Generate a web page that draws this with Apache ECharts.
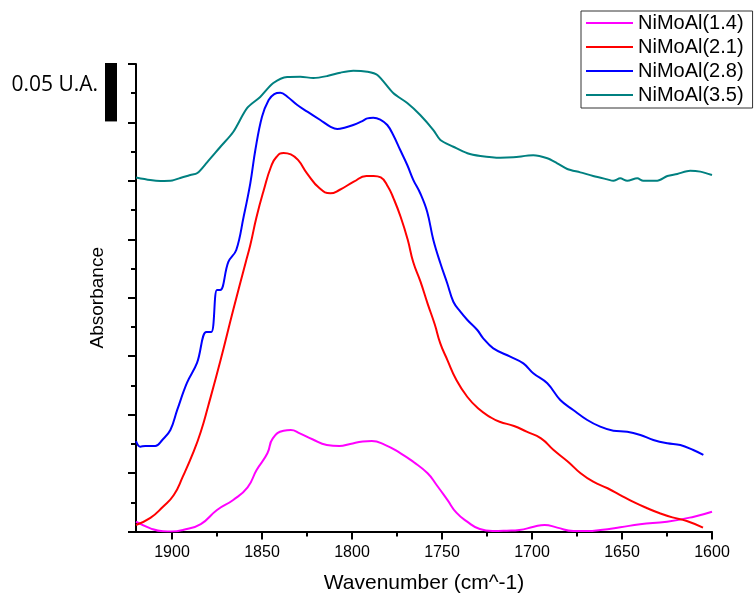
<!DOCTYPE html>
<html>
<head>
<meta charset="utf-8">
<script src="https://cdn.jsdelivr.net/npm/echarts@6/dist/echarts.min.js"></script>
<style>
html, body { margin: 0; padding: 0; background: #fff; }
#chart { width: 756px; height: 600px; }
</style>
</head>
<body>
<div id="chart"></div>
<script>
// wavenumber (cm^-1) / absorbance
var wn14 = [1920,1912,1905,1900,1894,1884,1875,1866,1858,1853,1847,1844,1838,1834,1829,1822,1814,1807,1801,1794,1789,1782,1773,1766,1758,1753,1747,1742,1736,1729,1722,1714,1707,1699,1693,1686,1677,1669,1662,1651,1640,1625,1610,1600];
var abs14 = [0.0084,0.0027,0.0002,0.0,0.0013,0.0064,0.0184,0.0270,0.0378,0.0526,0.0669,0.0797,0.0862,0.0868,0.0840,0.0789,0.0740,0.0732,0.0749,0.0770,0.0774,0.0744,0.0669,0.0597,0.0498,0.0398,0.0270,0.0161,0.0084,0.0021,0.0004,0.0007,0.0013,0.0041,0.0056,0.0033,0.0004,0.0004,0.0013,0.0036,0.0062,0.0084,0.0127,0.0169];

var wn21 = [1920,1912,1905,1899,1894,1888,1884,1880,1873,1866,1859,1856.5,1853,1849,1845,1842,1838,1834,1830,1825,1818,1812,1807,1799,1792,1788,1784,1780,1777,1773,1769,1766,1762,1758,1754,1751,1747,1742,1736,1730,1723,1718,1710,1703,1695,1688,1680,1673,1666,1658,1651,1644,1636,1629,1622,1614,1605];
var abs21 = [0.0056,0.0116,0.0212,0.0312,0.0469,0.0683,0.0854,0.1068,0.1467,0.1895,0.2306,0.2451,0.2693,0.2922,0.3121,0.3204,0.3239,0.3226,0.3179,0.3065,0.2936,0.2894,0.2922,0.2993,0.3042,0.3042,0.3029,0.2950,0.2853,0.2693,0.2494,0.2306,0.2140,0.1950,0.1771,0.1612,0.1467,0.1296,0.1153,0.1054,0.0977,0.0939,0.0903,0.0854,0.0797,0.0697,0.0597,0.0498,0.0426,0.0370,0.0312,0.0255,0.0199,0.0156,0.0121,0.0090,0.0033];

var wn28 = [1920,1917.6,1914.8,1909.3,1905.4,1900.9,1897.1,1891.7,1886.1,1880.9,1878.2,1875,1873.2,1868.7,1864.3,1860.2,1856.5,1853.7,1850,1846.3,1843.2,1839.8,1835.9,1830.4,1824.8,1817.6,1812.1,1808.2,1803.7,1799.3,1794.3,1791.5,1788.2,1784.3,1780.4,1777.1,1773.2,1769.3,1765.9,1762.1,1758.2,1754.8,1750.9,1747.1,1743.7,1739.8,1735.9,1730.4,1727.1,1721.5,1712.1,1704.8,1699.3,1691.5,1684.3,1677.1,1669.3,1662.1,1654.8,1647.1,1639.8,1632.6,1624.8,1617.6,1610.4,1604.8];
var abs28 = [0.0774,0.0726,0.0732,0.0732,0.0783,0.0868,0.1040,0.1271,0.1442,0.1707,0.1707,0.2066,0.2066,0.2306,0.2409,0.2693,0.2979,0.3264,0.3549,0.3692,0.3743,0.3754,0.3720,0.3649,0.3592,0.3521,0.3465,0.3444,0.3457,0.3478,0.3512,0.3535,0.3541,0.3525,0.3478,0.3393,0.3264,0.3136,0.3007,0.2894,0.2734,0.2494,0.2295,0.2124,0.1966,0.1881,0.1810,0.1724,0.1653,0.1567,0.1496,0.1439,0.1354,0.1268,0.1125,0.1040,0.0954,0.0897,0.0862,0.0854,0.0826,0.0783,0.0755,0.0740,0.0697,0.0655];

var wn35 = [1920,1912.1,1906.5,1899.8,1895.4,1889.8,1885.9,1880.4,1873.2,1866,1858.2,1851,1843.7,1836,1828.7,1821.5,1813.7,1806.5,1799.3,1791.5,1785.9,1777.1,1769.3,1762.1,1754.8,1750.9,1743.7,1735.9,1728.7,1717.6,1710.4,1699.3,1691.5,1686,1680.4,1673.2,1666,1658.2,1654.8,1651,1647.1,1641.5,1638.2,1630.4,1624.8,1619.3,1612.1,1606.5,1600];
var abs35 = [0.3029,0.3007,0.2999,0.3003,0.3025,0.3050,0.3067,0.3161,0.3290,0.3418,0.3624,0.3718,0.3837,0.3889,0.3891,0.3880,0.3897,0.3926,0.3943,0.3934,0.3906,0.3752,0.3666,0.3564,0.3435,0.3350,0.3292,0.3236,0.3213,0.3198,0.3202,0.3219,0.3193,0.3150,0.3102,0.3073,0.3042,0.3013,0.3001,0.3022,0.3001,0.3022,0.3001,0.3001,0.3042,0.3059,0.3087,0.3079,0.3050];

var seriesNames = ['NiMoAl(1.4)', 'NiMoAl(2.1)', 'NiMoAl(2.8)', 'NiMoAl(3.5)'];
var seriesColors = ['#ff00ff', '#ff0000', '#0000ff', '#008080'];
var seriesSmooth = [0.5, 0.5, 0.4, 0.3];

var majorTicks = [1600, 1650, 1700, 1750, 1800, 1850, 1900];
var minorTicks = [1625, 1675, 1725, 1775, 1825, 1875];

var FONT = 'Liberation Sans, Arial, sans-serif';

function pairs(xs, ys){
	var out = [];
	for(var i = 0; i < xs.length; i++){
		out.push([xs[i], ys[i]]);
	}
	return out;
}

var chart = echarts.init(document.getElementById('chart'));

var xList = [wn14, wn21, wn28, wn35];
var yList = [abs14, abs21, abs28, abs35];
var series = [];
for(var i = 0; i < seriesNames.length; i++){
	series.push({
		name: seriesNames[i],
		type: 'line',
		xAxisIndex: 0,
		symbol: 'none',
		smooth: seriesSmooth[i],
		lineStyle: { color: seriesColors[i], width: 2 },
		itemStyle: { color: seriesColors[i] },
		data: pairs(xList[i], yList[i])
	});
}

var axisColor = '#000';

var option = {
	animation: false,
	grid: { left: 136, right: 44, top: 64, bottom: 68.5 },
	legend: {
		orient: 'vertical',
		left: 581,
		top: 11,
		padding: [2, 9, 3, 5],
		itemGap: 4,
		itemWidth: 47,
		itemHeight: 2,
		icon: 'rect',
		borderColor: '#333',
		borderWidth: 1,
		borderRadius: 0,
		backgroundColor: '#fff',
		textStyle: { fontSize: 20, lineHeight: 20, color: '#000', fontFamily: FONT },
		data: seriesNames
	},
	xAxis: [{
		type: 'value',
		min: 1600,
		max: 1920,
		inverse: true,
		name: 'Wavenumber (cm^-1)',
		nameLocation: 'middle',
		nameGap: 41,
		nameTextStyle: { fontSize: 21, color: '#000', fontFamily: FONT },
		axisLine: { onZero: false, lineStyle: { color: axisColor, width: 2 } },
		axisTick: { length: 8, customValues: majorTicks, lineStyle: { color: axisColor, width: 2 } },
		axisLabel: {
			customValues: majorTicks,
			margin: 13,
			fontSize: 16,
			color: '#000',
			fontFamily: FONT,
			formatter: function(v){ return String(v); }
		},
		splitLine: { show: false }
	}, {
		// minor ticks only
		type: 'value',
		min: 1600,
		max: 1920,
		inverse: true,
		position: 'bottom',
		axisLine: { show: false },
		axisTick: { length: 5, customValues: minorTicks, lineStyle: { color: axisColor, width: 2 } },
		axisLabel: { show: false },
		splitLine: { show: false }
	}],
	yAxis: {
		type: 'value',
		min: 0,
		max: 0.4,
		interval: 0.05,
		name: 'Absorbance',
		nameLocation: 'middle',
		nameGap: 29,
		nameTextStyle: { fontSize: 19, color: '#000', fontFamily: FONT },
		axisLine: { show: true, onZero: false, lineStyle: { color: axisColor, width: 2 } },
		axisTick: { show: true, length: 8, lineStyle: { color: axisColor, width: 2 } },
		minorTick: { show: true, splitNumber: 2, length: 5, lineStyle: { color: axisColor, width: 2 } },
		axisLabel: { show: false },
		splitLine: { show: false },
		minorSplitLine: { show: false }
	},
	series: series
};

chart.setOption(option);

// scale bar = one major y interval (0.05)
var barTop = chart.convertToPixel({ yAxisIndex: 0 }, 0.4);
var barBottom = chart.convertToPixel({ yAxisIndex: 0 }, 0.35);
chart.setOption({
	graphic: [{
		type: 'rect',
		shape: { x: 105, y: barTop - 1, width: 12, height: barBottom - barTop },
		style: { fill: '#000' }
	}, {
		type: 'text',
		x: 98,
		y: 85,
		style: {
			text: '0.05 U.A.',
			fontSize: 21,
			fontFamily: 'Open Sans',
			fill: '#000',
			align: 'right',
			verticalAlign: 'middle',
			textAlign: 'right',
			textVerticalAlign: 'middle'
		}
	}]
});
</script>
</body>
</html>
